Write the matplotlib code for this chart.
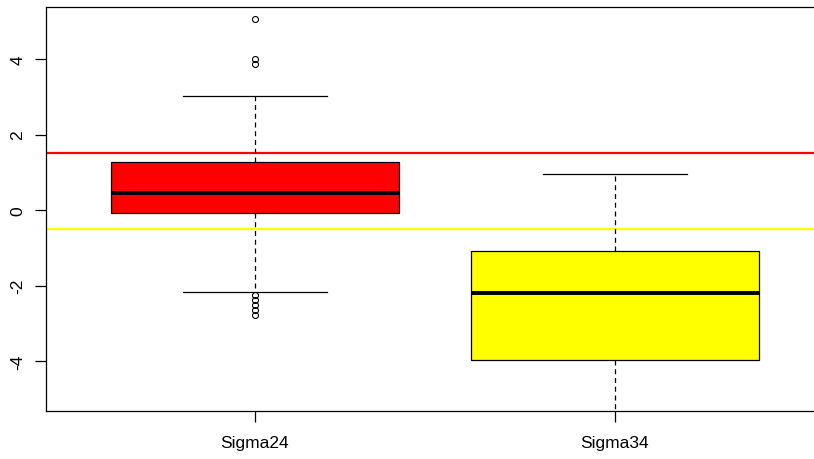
import matplotlib
matplotlib.use("Agg")
import matplotlib.pyplot as plt

plt.rcParams['font.family'] = ['Liberation Sans', 'DejaVu Sans']

# box summaries for the two groups
labels = ['Sigma24', 'Sigma34']
medians = [0.45, -2.2]
q1 = [-0.08, -3.97]
q3 = [1.28, -1.08]
whisk_lo = [-2.16, -5.7]
whisk_hi = [3.02, 0.97]
fliers = [[5.06, 4.0, 3.87, -2.25, -2.38, -2.52, -2.65, -2.78], []]
colors = ['#ff0000', '#ffff00']

# reference levels
red_level = 1.5
yellow_level = -0.5

stats = []
for i in range(len(labels)):
    stats.append(dict(label=labels[i], med=medians[i], q1=q1[i], q3=q3[i],
                      whislo=whisk_lo[i], whishi=whisk_hi[i], fliers=fliers[i]))

fig = plt.figure(figsize=(8.14, 4.6), dpi=100)
x0, x1 = 0.42, 2.7
ax = fig.add_axes([46 / 814, 48 / 460, (x1 - x0) * 360 / 814, 404 / 460])

bp = ax.bxp(stats, positions=[1, 2], widths=0.8, capwidths=0.4,
            patch_artist=True,
            boxprops=dict(edgecolor='black', linewidth=0.9),
            whiskerprops=dict(color='black', linewidth=0.9, linestyle=(0, (4, 3))),
            capprops=dict(color='black', linewidth=0.9),
            medianprops=dict(color='black', linewidth=2.8, solid_capstyle='butt'),
            flierprops=dict(marker='o', markersize=4.3, markerfacecolor='none',
                            markeredgecolor='black', markeredgewidth=0.8))
for patch, c in zip(bp['boxes'], colors):
    patch.set_facecolor(c)

ax.axhline(red_level, color='#ff0000', linewidth=1.6, zorder=1)
ax.axhline(yellow_level, color='#ffff00', linewidth=1.6, zorder=1)

ax.set_xlim(x0, x1)
ax.set_ylim(-5.32, 5.38)
ax.set_yticks([-4, -2, 0, 2, 4])
ax.set_yticklabels(['-4', '-2', '0', '2', '4'], rotation=90, va='center')
ax.set_xticks([1, 2])
ax.set_xticklabels(labels)
ax.tick_params(axis='both', length=8, width=0.9, labelsize=12.5)
ax.tick_params(axis='x', pad=9)
ax.tick_params(axis='y', pad=7)
for s in ax.spines.values():
    s.set_linewidth(0.9)

fig.savefig('out.png', dpi=100)
